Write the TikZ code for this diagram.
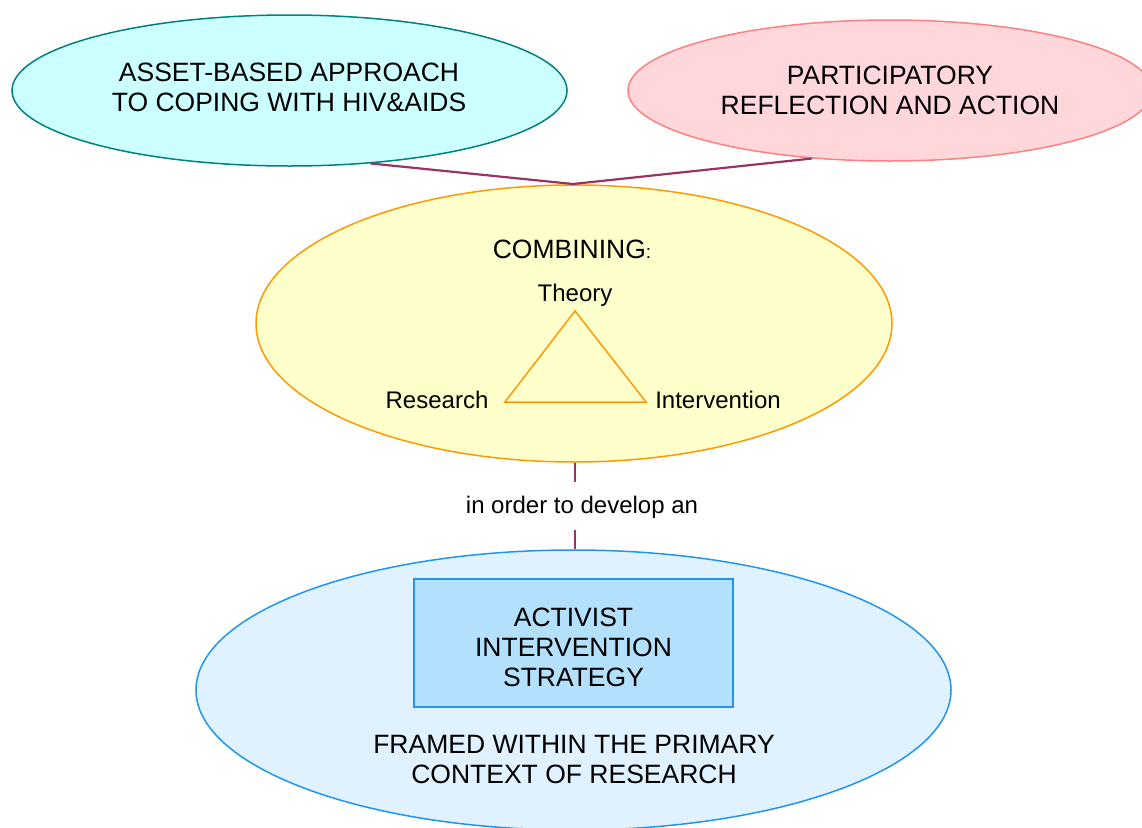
\documentclass[tikz,border=0pt]{standalone}
\usepackage{fontspec}
\setmainfont{Liberation Sans}
\usetikzlibrary{shapes.geometric}
\definecolor{cyanfill}{HTML}{CCFFFF}
\definecolor{cyanline}{HTML}{008080}
\definecolor{pinkfill}{HTML}{FFD7DA}
\definecolor{pinkline}{HTML}{FF8080}
\definecolor{yelfill}{HTML}{FFFFCC}
\definecolor{yelline}{HTML}{FF9900}
\definecolor{bluefill}{HTML}{E0F2FF}
\definecolor{blueline}{HTML}{1E96F0}
\definecolor{boxfill}{HTML}{B3E1FD}
\definecolor{plum}{HTML}{993366}
\tikzset{
  oval/.style={ellipse, draw, line width=1.5pt, inner sep=0pt, align=center,
    font=\fontsize{26.5}{30}\selectfont},
  bigtext/.style={align=center, inner sep=0pt, font=\fontsize{26.5}{30}\selectfont},
  smalltext/.style={align=center, inner sep=0pt, font=\fontsize{24}{28}\selectfont},
  link/.style={draw=plum, line width=2.2pt},
}
\begin{document}
\begin{tikzpicture}[x=1pt,y=-1pt]
\useasboundingbox (0,0) rectangle (1142,827);
% ellipses
\node[oval, draw=cyanline, fill=cyanfill, minimum width=555, minimum height=151] (asset) at (289.5,90.5) {};
\node[bigtext] (assett) at (289,87) {ASSET-BASED APPROACH\\TO COPING WITH HIV\&AIDS};
\node[oval, draw=pinkline, fill=pinkfill, minimum width=524, minimum height=141] (part) at (890,90.5)
  {PARTICIPATORY\\REFLECTION AND ACTION};
\node[oval, draw=yelline, fill=yelfill, minimum width=636, minimum height=277] (comb) at (574,323.5) {};
\node[oval, draw=blueline, fill=bluefill, minimum width=755, minimum height=280] (frame) at (573.5,690) {};
% connectors at top
\coordinate (join) at (573,184);
\draw[link] (asset.-42) -- (join);
\draw[link] (part.221) -- (join);
% inside combining
\node[bigtext] (combt) at (572,249) {COMBINING{\fontsize{19}{22}\selectfont:}};
\node[smalltext] (theory) at (575,295) {Theory};
\node[smalltext] (research) at (437,400) {Research};
\node[smalltext] (interv) at (718,400) {Intervention};
\coordinate (ta) at (575,311);
\coordinate (tb) at (505,402);
\coordinate (tc) at (646,402);
\draw[yelline, line width=1.5pt, line join=miter] (ta) -- (tb) -- (tc) -- cycle;
% middle link
\node[smalltext] (order) at (582,507) {in order to develop an};
\coordinate (o1) at (575,482);
\coordinate (o2) at (575,530);
\draw[draw=plum, line width=1.8pt] (comb.south -| o1) -- (o1);
\draw[draw=plum, line width=1.8pt] (o2) -- (frame.north -| o2);
% bottom
\node[draw=blueline, fill=boxfill, line width=1.5pt, minimum width=319, minimum height=128,
  inner sep=0pt] (strat) at (573.5,643) {};
\node[bigtext] (stratt) at (573.5,647) {ACTIVIST\\INTERVENTION\\STRATEGY};
\node[bigtext] (framet) at (574,760) {FRAMED WITHIN THE PRIMARY\\CONTEXT OF RESEARCH};
\end{tikzpicture}
\end{document}
